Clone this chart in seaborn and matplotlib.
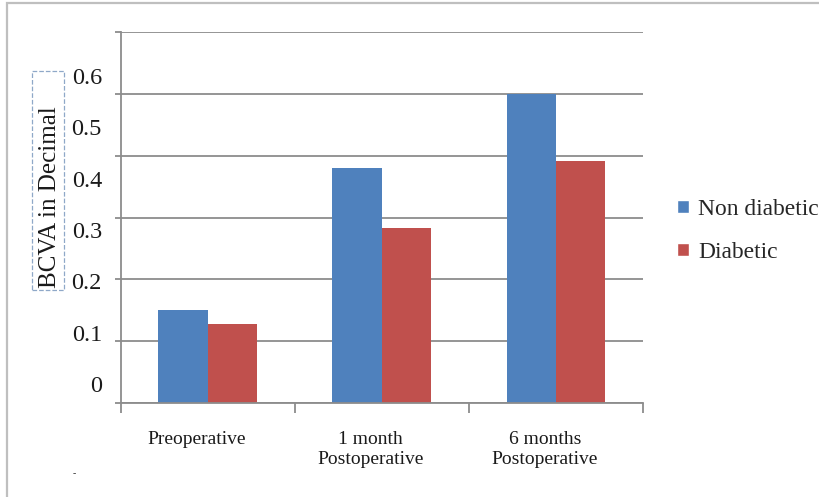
import matplotlib
matplotlib.use("Agg")
import matplotlib.pyplot as plt
import matplotlib.transforms as mtransforms
from matplotlib.patches import Rectangle
import pandas as pd
import seaborn as sns

# Best corrected visual acuity (decimal) by visit and group
visits = ["Preoperative", "1 month\nPostoperative", "6 months\nPostoperative"]
groups = ["Non diabetic", "Diabetic"]
non_diabetic = [0.15, 0.38, 0.50]
diabetic = [0.128, 0.284, 0.392]
ytick_labels = ["0", "0.1", "0.2", "0.3", "0.4", "0.5", "0.6"]

df = pd.DataFrame({
    "visit": visits * 2,
    "group": [groups[0]] * 3 + [groups[1]] * 3,
    "bcva": non_diabetic + diabetic,
})

sns.set_theme(style="white")
plt.rcParams["font.family"] = ["Liberation Serif", "DejaVu Serif"]

W, H = 819, 497
fig = plt.figure(figsize=(W / 100, H / 100), dpi=100)
fig.patch.set_facecolor("white")


def px_rect(x, y, w, h, **kw):
    """Rectangle given in pixels from the top-left corner of the figure."""
    return Rectangle((x / W, (H - y - h) / H), w / W, h / H,
                     transform=fig.transFigure, **kw)


# outer chart frame
fig.patches.append(px_rect(7, 3, 900, 600, fill=False,
                           edgecolor="#bfbfbf", linewidth=1.6))

x0, x1, ybot, ytop = 120.7, 643, 403, 32.3
ax = fig.add_axes([x0 / W, (H - ybot) / H, (x1 - x0) / W, (ybot - ytop) / H])

palette = {"Non diabetic": "#4F81BD", "Diabetic": "#C0504D"}
sns.barplot(data=df, x="visit", y="bcva", hue="group", order=visits,
            hue_order=groups, palette=palette, width=0.567, gap=0,
            saturation=1, linewidth=0, ax=ax)

grid_c = "#8c8c8c"
ax.set_ylim(0, 0.6)
ax.set_xlim(-0.5, 2.5)
ax.set_yticks([i / 10 for i in range(7)])
ax.yaxis.grid(True, color=grid_c, linewidth=1.3)
ax.set_axisbelow(True)
ax.tick_params(axis="y", which="major", length=4, width=1.3, color=grid_c,
               direction="out", left=True, labelleft=False)
for side in ["top", "right"]:
    ax.spines[side].set_visible(False)
for side in ["left", "bottom"]:
    ax.spines[side].set_color(grid_c)
    ax.spines[side].set_linewidth(1.3)

# category ticks at group boundaries, labels at centers
ax.set_xticks([-0.5, 0.5, 1.5, 2.5])
ax.set_xticklabels([])
ax.set_xticks([0, 1, 2], minor=True)
ax.set_xticklabels(visits, minor=True, fontsize=14, linespacing=1.25,
                   color="#1a1a1a")
ax.tick_params(axis="x", which="major", length=7, width=1.3, color=grid_c,
               direction="out", bottom=True)
ax.tick_params(axis="x", which="minor", length=0, pad=20)
shift = mtransforms.ScaledTranslation(-11 / 100, 0, fig.dpi_scale_trans)
for lbl in ax.get_xticklabels(minor=True):
    lbl.set_transform(lbl.get_transform() + shift)
ax.set_xlabel("")
ax.set_ylabel("")

# value labels of the vertical axis
for i, t in enumerate(ytick_labels):
    yc = 384 - 51.33 * i
    fig.text(102 / W, (H - yc - 8) / H, t, ha="right", va="baseline",
             fontsize=17.5, color="#1a1a1a")

# axis title inside a dashed box
fig.patches.append(px_rect(32, 71, 32, 219, fill=False, edgecolor="#8fa8c8",
                           linestyle="--", linewidth=0.9))
fig.text(50.5 / W, (H - 197.5) / H, "BCVA in Decimal", rotation=90,
         ha="center", va="center", fontsize=18, color="#1a1a1a")

fig.text(74 / W, (H - 474) / H, "-", fontsize=7, color="#333333",
         ha="center", va="center")

ax.legend_.remove()
handles = [Rectangle((0, 0), 1, 1, facecolor=palette[g]) for g in groups]
fig.legend(handles, groups, loc="upper left",
           bbox_to_anchor=(677 / W, (H - 199) / H), frameon=False,
           fontsize=16.9, handlelength=0.5, handleheight=0.5,
           handletextpad=0.4, labelspacing=0.93, borderaxespad=0,
           borderpad=0)

fig.savefig("out.png", dpi=100)
